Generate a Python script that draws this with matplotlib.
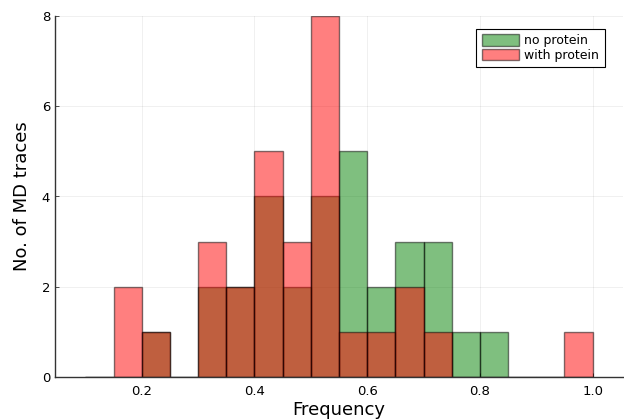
import matplotlib
matplotlib.use("Agg")
import matplotlib.pyplot as plt
import numpy as np

bin_edges = [0.10, 0.15, 0.20, 0.25, 0.30, 0.35, 0.40, 0.45, 0.50, 0.55, 0.60,
             0.65, 0.70, 0.75, 0.80, 0.85, 0.90, 0.95, 1.00]
no_protein = [0, 0, 1, 0, 2, 2, 4, 2, 4, 5, 2, 3, 3, 1, 1, 0, 0, 0]
with_protein = [0, 2, 1, 0, 3, 2, 5, 3, 8, 1, 1, 2, 1, 0, 0, 0, 0, 1]
labels = ["no protein", "with protein"]

plt.rcParams['font.family'] = ['DejaVu Sans']
fig = plt.figure(figsize=(6.24, 4.19), dpi=100)
ax = fig.add_axes([55/624, 1 - 377/419, (623-55)/624, (377-16)/419])

edges = np.array(bin_edges)
widths = np.diff(edges)
for vals, col, lab in [(no_protein, (0, 0.5, 0), labels[0]), (with_protein, (1, 0, 0), labels[1])]:
    ax.bar(edges[:-1], vals, width=widths, align='edge', color=col, alpha=0.5,
           edgecolor=(0, 0, 0, 0.6), linewidth=1.0, label=lab)

ax.set_xlim(0.046, 1.054)
ax.set_ylim(0, 8)
ax.set_xticks([0.2, 0.4, 0.6, 0.8, 1.0])
ax.set_xticklabels(["0.2", "0.4", "0.6", "0.8", "1.0"])
ax.set_yticks([0, 2, 4, 6, 8])
ax.grid(True, color='black', alpha=0.07, linewidth=0.6)
ax.set_axisbelow(True)
for s in ['top', 'right']:
    ax.spines[s].set_visible(False)
for s in ['left', 'bottom']:
    ax.spines[s].set_color('#333333')
    ax.spines[s].set_linewidth(1.0)
ax.tick_params(axis='both', labelsize=9.5, length=3, width=0.6, color='#333333', direction='in')
ax.tick_params(axis='x', pad=6)
ax.set_xlabel("Frequency", fontsize=13, labelpad=2)
ax.set_ylabel("No. of MD traces", fontsize=13, labelpad=8)

leg = ax.legend(loc='upper right', bbox_to_anchor=(0.968, 0.965), fontsize=9, frameon=True,
                fancybox=False, edgecolor='black', framealpha=1, handlelength=3.0,
                handleheight=1.0, handletextpad=0.4, borderpad=0.45, labelspacing=0.12,
                borderaxespad=0)
leg.get_frame().set_linewidth(0.8)

fig.savefig("out.png", dpi=100)
